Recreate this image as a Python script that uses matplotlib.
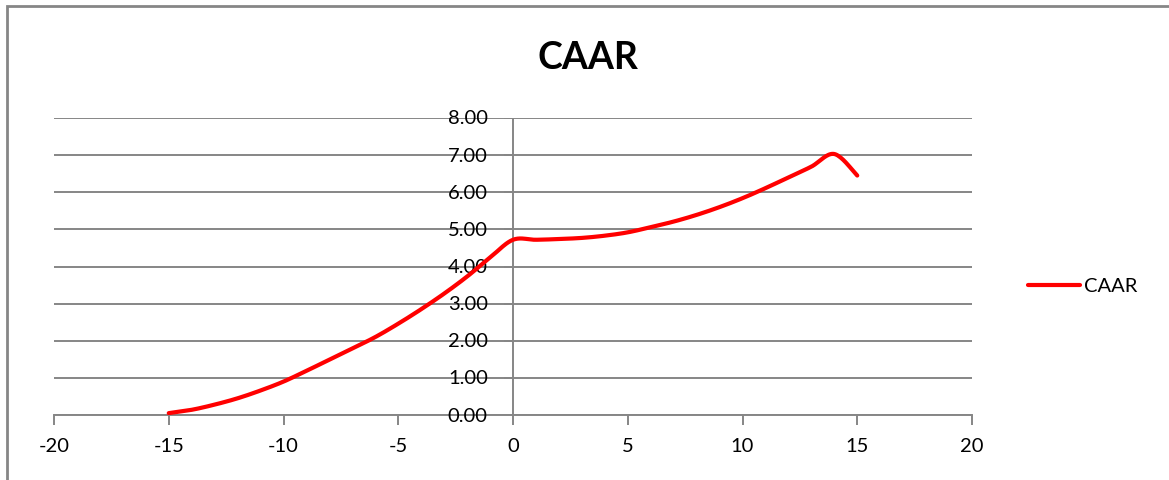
import matplotlib
matplotlib.use("Agg")
import matplotlib.pyplot as plt
import numpy as np
from matplotlib.patches import Rectangle
from matplotlib.lines import Line2D

plt.rcParams['font.family'] = ['Lato', 'DejaVu Sans']

# event window days and cumulative average abnormal return
days = list(range(-15, 16))
caar = [0.05, 0.14, 0.28, 0.45, 0.66, 0.90, 1.19, 1.49, 1.79, 2.10,
        2.46, 2.85, 3.27, 3.73, 4.24, 4.72, 4.72, 4.74, 4.77, 4.83,
        4.92, 5.06, 5.21, 5.39, 5.60, 5.84, 6.11, 6.40, 6.69, 7.03,
        6.45]
series_name = "CAAR"
x_ticks = [-20, -15, -10, -5, 0, 5, 10, 15, 20]
y_ticks = [0, 1, 2, 3, 4, 5, 6, 7, 8]


def smooth(x, y, n=20):
    # Excel-like smoothed line (Catmull-Rom via cubic bezier segments)
    x = np.asarray(x, float)
    y = np.asarray(y, float)
    px = np.concatenate([[x[0]], x, [x[-1]]])
    py = np.concatenate([[y[0]], y, [y[-1]]])
    xs, ys = [], []
    t = np.linspace(0, 1, n, endpoint=False)
    for i in range(1, len(px) - 2):
        p0 = np.array([px[i], py[i]])
        p3 = np.array([px[i + 1], py[i + 1]])
        c1 = p0 + (np.array([px[i + 1], py[i + 1]]) - np.array([px[i - 1], py[i - 1]])) / 6
        c2 = p3 - (np.array([px[i + 2], py[i + 2]]) - np.array([px[i], py[i]])) / 6
        pts = ((1 - t) ** 3)[:, None] * p0 + (3 * (1 - t) ** 2 * t)[:, None] * c1 \
            + (3 * (1 - t) * t ** 2)[:, None] * c2 + (t ** 3)[:, None] * p3
        xs.extend(pts[:, 0])
        ys.extend(pts[:, 1])
    xs.append(x[-1])
    ys.append(y[-1])
    return xs, ys


W, H = 1169, 481
fig = plt.figure(figsize=(W / 100, H / 100), dpi=100)
fig.patch.set_facecolor('white')

# chart border (cropped on right and bottom)
fig.add_artist(Rectangle((7 / W, -0.1), 1.2, 1 - 7 / H + 0.1, transform=fig.transFigure,
                         fill=False, edgecolor='#868686', linewidth=2))

ax = fig.add_axes([54 / W, 1 - 416 / H, (972 - 54) / W, (416 - 119) / H])
ax.set_xlim(-20, 20)
ax.set_ylim(0, 8)

grid_c = '#868686'
for v in y_ticks:
    ax.axhline(v, color=grid_c, linewidth=1.4, zorder=1)

for s in ['top', 'right', 'left']:
    ax.spines[s].set_visible(False)
ax.spines['bottom'].set_color(grid_c)
ax.spines['bottom'].set_linewidth(1.4)

ax.set_xticks(x_ticks)
ax.set_xticklabels([str(v) for v in x_ticks])
ax.tick_params(axis='x', direction='out', length=7, width=1.4, color=grid_c,
               labelsize=14.5, pad=9)

# vertical axis crosses at x = 0
ax.axvline(0, color=grid_c, linewidth=1.4, zorder=1)
ax.set_yticks([])
for v in y_ticks:
    ax.plot([-0.35, 0], [v, v], color=grid_c, linewidth=1.4, zorder=1)
    ax.text(-1.1, v, f"{v:.2f}", ha='right', va='center', fontsize=14.5)

sx, sy = smooth(days, caar)
ax.plot(sx, sy, color='#FF0000', linewidth=3, solid_capstyle='round', zorder=3)

fig.text(588 / W, 1 - 58 / H, "CAAR", ha='center', va='center',
         fontsize=27, fontweight='bold')

# legend
fig.add_artist(Line2D([1028 / W, 1080 / W], [1 - 286 / H, 1 - 286 / H],
                      transform=fig.transFigure, color='#FF0000', linewidth=3,
                      solid_capstyle='round'))
fig.text(1084 / W, 1 - 286 / H, series_name, ha='left', va='center', fontsize=14.5)

fig.savefig("out.png", dpi=100)
